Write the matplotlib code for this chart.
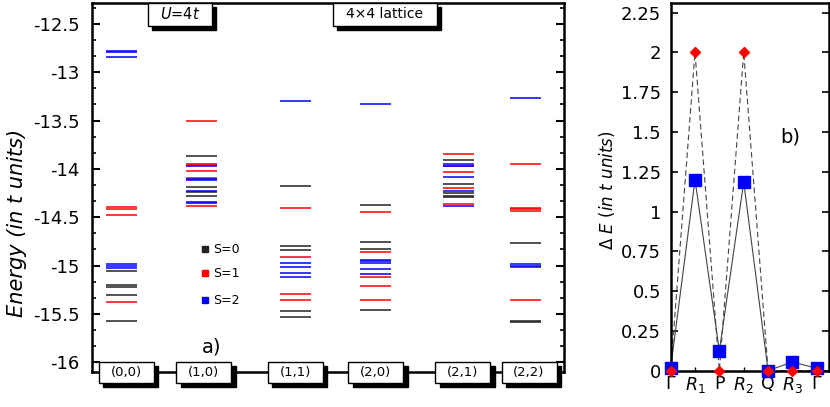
import numpy as np
import matplotlib
matplotlib.use("Agg")
import matplotlib.pyplot as plt
from matplotlib.patches import Rectangle
from matplotlib.ticker import MultipleLocator, FuncFormatter

# --- a) energy levels per momentum sector, grouped by total spin ---
sectors = ["(0,0)", "(1,0)", "(1,1)", "(2,0)", "(2,1)", "(2,2)"]

levels_s0 = [
    [-15.057, -15.20, -15.225, -15.30, -15.57],
    [-13.863, -14.19, -14.235, -14.277],
    [-14.18, -14.795, -14.836, -15.468, -15.53],
    [-14.375, -14.753, -14.826, -15.461],
    [-13.911, -14.16, -14.253, -14.28, -14.295],
    [-14.77, -15.02, -15.575, -15.585],
]
levels_s1 = [
    [-14.39, -14.41, -14.48, -15.375],
    [-13.50, -13.95, -13.96, -14.018, -14.09, -14.387],
    [-14.40, -14.915, -15.295, -15.354],
    [-14.45, -14.86, -15.122, -15.209, -15.354],
    [-13.846, -13.967, -14.028, -14.20, -14.36],
    [-13.95, -14.40, -14.42, -14.44, -15.36],
]
levels_s2 = [
    [-12.775, -12.79, -12.84, -14.985, -15.005, -15.025],
    [-13.975, -14.10, -14.118, -14.225, -14.34, -14.356],
    [-13.30, -14.977, -15.015, -15.075, -15.122],
    [-13.33, -14.945, -14.955, -14.977, -15.033, -15.088],
    [-13.952, -13.975, -14.084, -14.225, -14.384],
    [-13.27, -14.98, -15.00],
]
spin_labels = ["S=0", "S=1", "S=2"]

# --- b) gaps along the path ---
path_labels = [r"$\mathrm{\Gamma}$", r"$R_1$", "P", r"$R_2$", "Q", r"$R_3$",
               r"$\mathrm{\Gamma}$"]
gap_squares = [0.015, 1.2, 0.125, 1.185, 0.0, 0.055, 0.015]
gap_diamonds = [0.0, 2.0, 0.0, 2.0, 0.0, 0.0, 0.0]


def shadow_box(ax, x0, y0, w, h, text, fs, dx=0.009, dy=0.012):
    # черная "тень" + белая рамка с текстом, в координатах осей
    ax.add_patch(Rectangle((x0 + dx, y0 - dy), w, h, transform=ax.transAxes,
                           facecolor="black", edgecolor="black",
                           clip_on=False, zorder=5))
    ax.add_patch(Rectangle((x0, y0), w, h, transform=ax.transAxes,
                           facecolor="white", edgecolor="black", lw=1.0,
                           clip_on=False, zorder=6))
    ax.text(x0 + w / 2, y0 + h / 2, text, transform=ax.transAxes,
            ha="center", va="center", fontsize=fs, zorder=7)


def main():
    plt.rcParams["font.family"] = ["DejaVu Sans"]
    plt.rcParams["mathtext.fontset"] = "dejavusans"

    fig = plt.figure(figsize=(8.30, 4.07), dpi=100)
    ax = fig.add_axes([0.1108, 0.086, 0.5687, 0.9066])
    bx = fig.add_axes([0.808, 0.0892, 0.1908, 0.9034])

    # ---------- panel a ----------
    centers = [0.38, 1.39, 2.59, 3.6, 4.66, 5.51]
    half = 0.197
    colors = ["#222222", "#ff0000", "#0000ff"]
    for levels, col in zip([levels_s0, levels_s1, levels_s2], colors):
        for xc, col_levels in zip(centers, levels):
            for e in col_levels:
                ax.plot([xc - half, xc + half], [e, e], color=col, lw=1.1,
                        solid_capstyle="butt", zorder=2)

    ax.set_xlim(0, 6)
    ax.set_ylim(-16.102, -12.283)
    ax.set_xticks([])
    ax.yaxis.set_major_locator(MultipleLocator(0.5))
    ax.yaxis.set_minor_locator(MultipleLocator(0.5 / 3))
    ax.yaxis.set_major_formatter(FuncFormatter(lambda v, p: "%g" % v))
    ax.tick_params(axis="y", which="major", direction="in", length=6,
                   width=1.5, right=True, labelsize=13, pad=9)
    ax.tick_params(axis="y", which="minor", direction="in", length=3,
                   width=1.2, right=True)
    for sp in ax.spines.values():
        sp.set_linewidth(1.8)
    ax.set_ylabel("Energy (in t units)", fontsize=15, style="italic")
    ax.yaxis.set_label_coords(-0.137, 0.405)

    # боксы с метками секторов на нижней оси
    box_cx = [0.0735, 0.237, 0.4316, 0.6017, 0.786, 0.926]
    bw = 0.1165
    for cx, lab in zip(box_cx, sectors):
        shadow_box(ax, cx - bw / 2, -0.030, bw, 0.057, lab, 9.5)

    shadow_box(ax, 0.119, 0.938, 0.135, 0.062,
               r"$\mathit{U}$=4$\mathit{t}$", 10.5)
    shadow_box(ax, 0.51, 0.938, 0.22, 0.062, "4×4 lattice", 10)

    # легенда
    for yy, col, lab in zip([0.333, 0.268, 0.195], colors, spin_labels):
        ax.plot([0.239], [yy], marker="s", ms=4, color=col, mec=col,
                ls="none", transform=ax.transAxes)
        ax.text(0.257, yy, lab, transform=ax.transAxes, fontsize=9,
                va="center", ha="left")

    ax.text(0.254, 0.068, "a)", transform=ax.transAxes, fontsize=14,
            ha="center", va="center")

    # ---------- panel b ----------
    xs = np.arange(len(path_labels))
    bx.plot(xs, gap_squares, color="#444444", lw=0.8, zorder=2, clip_on=False)
    bx.plot(xs, gap_diamonds, color="#444444", lw=0.8, ls=(0, (5, 3)),
            zorder=2, clip_on=False)
    bx.plot(xs, gap_squares, ls="none", marker="s", ms=9, color="#0000ff",
            mec="#0000ff", zorder=3, clip_on=False)
    bx.plot(xs, gap_diamonds, ls="none", marker="D", ms=5.5, color="#ff0000",
            mec="#ff0000", zorder=4, clip_on=False)

    bx.set_xlim(0, 6.5)
    bx.set_ylim(0, 2.31)
    bx.set_xticks(xs)
    bx.set_xticklabels(path_labels)
    bx.yaxis.set_major_locator(MultipleLocator(0.25))
    bx.yaxis.set_major_formatter(FuncFormatter(lambda v, p: "%g" % v))
    bx.tick_params(axis="y", direction="in", length=5, width=1.2,
                   right=True, labelsize=13, pad=7)
    bx.tick_params(axis="x", direction="in", length=3, width=1.0,
                   labelsize=12.5, pad=3)
    for sp in bx.spines.values():
        sp.set_linewidth(1.8)
    bx.set_ylabel(r"$\Delta\ \mathit{E\ (in\ t\ units)}$", fontsize=12)
    bx.yaxis.set_label_coords(-0.34, 0.49)
    bx.text(4.9, 1.47, "b)", fontsize=14, ha="center", va="center")

    fig.savefig("out.png", dpi=100)


if __name__ == "__main__":
    main()
